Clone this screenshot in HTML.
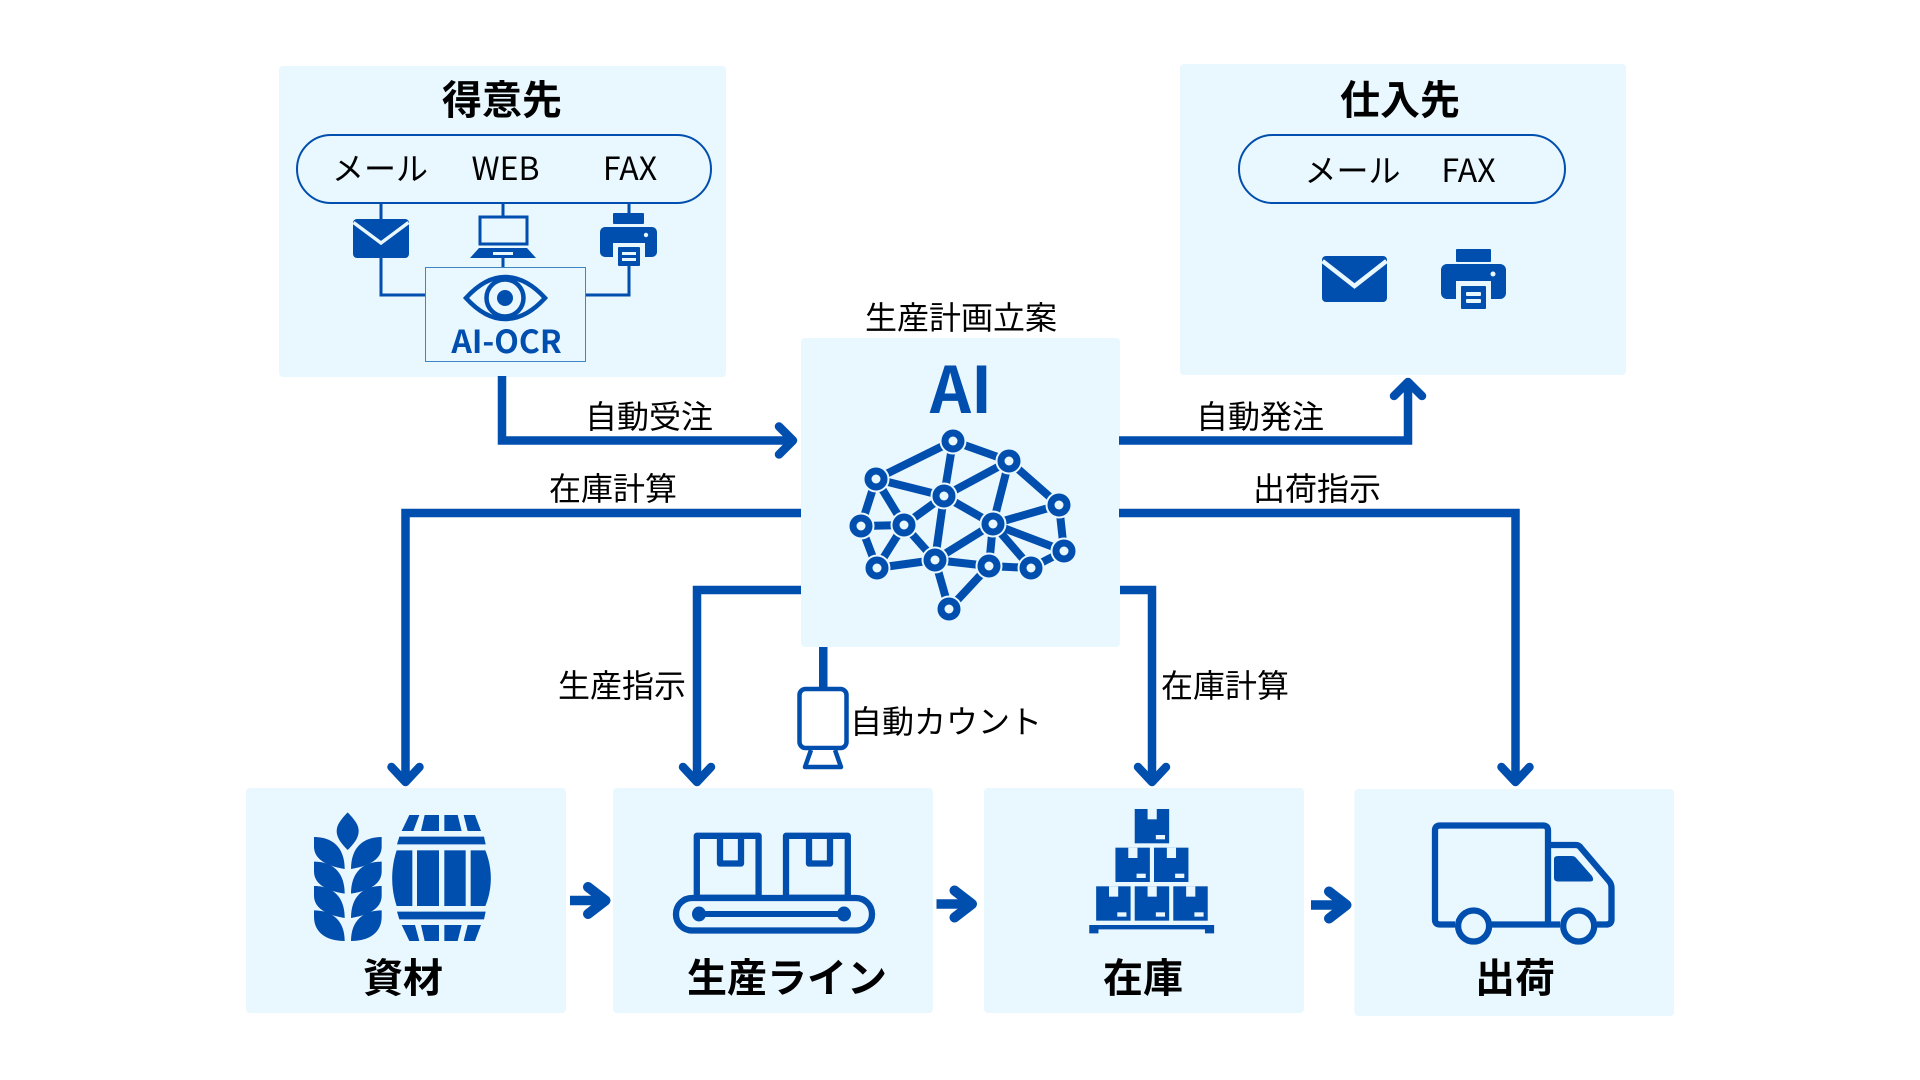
<!DOCTYPE html>
<html lang="ja">
<head>
<meta charset="utf-8">
<title>AI生産計画</title>
<style>
html,body{margin:0;padding:0;background:#fff;width:1920px;height:1080px;overflow:hidden}
svg{display:block}
text{font-family:"Noto Sans CJK JP","Liberation Sans",sans-serif;fill:#000;text-anchor:middle}
.b{font-weight:700;font-size:40px}
.r{font-size:32px}
.conn{fill:none;stroke:#004EAD;stroke-width:8.5;stroke-linejoin:miter}
.head{fill:none;stroke:#004EAD;stroke-width:8.5;stroke-linecap:round;stroke-linejoin:round}
.thin{fill:none;stroke:#004EAD;stroke-width:3}
.ln{stroke:#004EAD;stroke-width:8}
.ring{fill:#004EAD;stroke:#E9F7FF;stroke-width:2}
.hole{fill:#E9F7FF}
</style>
</head>
<body>
<svg width="1920" height="1080" viewBox="0 0 1920 1080" xmlns="http://www.w3.org/2000/svg">
<defs>
<g id="box"><rect width="75" height="103" fill="#004EAD"/><rect x="28" width="20" height="31" fill="#E9F7FF"/><rect x="46" y="78" width="20" height="13" fill="#E9F7FF"/></g>
<g id="leaf"><path d="M42 96C95 96 134 125 134 192C90 185 42 168 42 125Z"/></g>
<g id="leaflast"><path d="M42 316C95 316 134 345 134 408C75 408 42 380 42 335Z"/></g>
</defs>

<!-- panels -->
<g fill="#E9F7FF">
<rect x="279" y="66" width="447" height="311" rx="4"/>
<rect x="1180" y="64" width="446" height="311" rx="4"/>
<rect x="801" y="338" width="319" height="309" rx="4"/>
<rect x="246" y="788" width="320" height="225" rx="4"/>
<rect x="613" y="788" width="320" height="225" rx="4"/>
<rect x="984" y="788" width="320" height="225" rx="4"/>
<rect x="1354.500" y="789" width="319.500" height="227" rx="4"/>
</g>

<!-- 得意先 -->
<text class="b" x="502" y="114">得意先</text>
<rect x="297" y="135" width="414" height="68" rx="34" fill="none" stroke="#004EAD" stroke-width="2"/>
<text class="r" x="380" y="180">メール</text>
<text class="r" x="505.500" y="180">WEB</text>
<text class="r" x="630" y="180">FAX</text>
<path class="thin" d="M381 203V219M503 203V216M629 203V213M381 258V295H425M503 258V267M586 295H629V266"/>
<rect x="353" y="219" width="56" height="39" rx="4" fill="#004EAD"/>
<path d="M353.500 222.500L381 243L408.500 222.500" fill="none" stroke="#E9F7FF" stroke-width="3.500"/>
<rect x="480" y="217" width="47" height="27" fill="none" stroke="#004EAD" stroke-width="3"/>
<path d="M470 258H536L527 248H479Z" fill="#004EAD"/>
<rect x="493" y="252" width="20" height="3" fill="#E9F7FF"/>
<rect x="613" y="213" width="31" height="11" rx="1" fill="#004EAD"/>
<rect x="600" y="227" width="57" height="30" rx="5" fill="#004EAD"/>
<rect x="613" y="243" width="32" height="16" fill="#E9F7FF"/>
<rect x="618" y="247" width="22" height="19" rx="1" fill="#004EAD"/>
<rect x="622" y="252" width="14" height="3" fill="#E9F7FF"/><rect x="622" y="258" width="14" height="3" fill="#E9F7FF"/>
<circle cx="646" cy="235" r="2.200" fill="#E9F7FF"/>
<rect x="425.500" y="267.500" width="160" height="94" fill="#E9F7FF" stroke="#3F85C4" stroke-width="1"/>
<path d="M466 298Q485 277 505 277Q526 277 545 298Q526 319 505 319Q485 319 466 298Z" fill="none" stroke="#004EAD" stroke-width="4.500"/>
<circle cx="505" cy="298" r="18.500" fill="none" stroke="#004EAD" stroke-width="4.500"/>
<circle cx="505" cy="298" r="8" fill="#004EAD"/>
<text x="506.500" y="353" font-size="32" font-weight="700" style="fill:#004EAD">AI-OCR</text>

<!-- 仕入先 -->
<text class="b" x="1400" y="114">仕入先</text>
<rect x="1239" y="135" width="326" height="68" rx="34" fill="none" stroke="#004EAD" stroke-width="2"/>
<text class="r" x="1352.500" y="182">メール</text>
<text class="r" x="1468.500" y="182">FAX</text>
<rect x="1322" y="256" width="65" height="46" rx="4" fill="#004EAD"/>
<path d="M1322.500 261L1354.500 286L1386.500 261" fill="none" stroke="#E9F7FF" stroke-width="4.500"/>
<rect x="1456" y="249" width="35" height="13" rx="1" fill="#004EAD"/>
<rect x="1441" y="264" width="65" height="35" rx="6" fill="#004EAD"/>
<rect x="1456" y="281" width="35" height="19" fill="#E9F7FF"/>
<rect x="1461" y="286" width="25" height="23" rx="1" fill="#004EAD"/>
<rect x="1466" y="292" width="15" height="4" rx="1" fill="#E9F7FF"/><rect x="1466" y="299" width="15" height="4" rx="1" fill="#E9F7FF"/>
<circle cx="1493" cy="274" r="2.500" fill="#E9F7FF"/>

<!-- AI -->
<text class="r" x="961" y="329">生産計画立案</text>
<text x="961" y="413" font-size="64" font-weight="700" style="fill:#004EAD">AI</text>
<g>
<g class="ln">
<line x1="953" y1="441" x2="876" y2="479"/><line x1="953" y1="441" x2="944" y2="496"/><line x1="953" y1="441" x2="1009" y2="461"/>
<line x1="1009" y1="461" x2="944" y2="496"/><line x1="1009" y1="461" x2="993" y2="524"/><line x1="1009" y1="461" x2="1059" y2="505"/>
<line x1="876" y1="479" x2="944" y2="496"/><line x1="876" y1="479" x2="861" y2="526"/><line x1="876" y1="479" x2="904" y2="525"/>
<line x1="944" y1="496" x2="904" y2="525"/><line x1="944" y1="496" x2="993" y2="524"/><line x1="944" y1="496" x2="935" y2="560"/>
<line x1="1059" y1="505" x2="993" y2="524"/><line x1="1059" y1="505" x2="1064" y2="551"/>
<line x1="861" y1="526" x2="904" y2="525"/><line x1="861" y1="526" x2="877" y2="568"/>
<line x1="904" y1="525" x2="877" y2="568"/><line x1="904" y1="525" x2="935" y2="560"/>
<line x1="993" y1="524" x2="935" y2="560"/><line x1="993" y1="524" x2="989" y2="566"/><line x1="993" y1="524" x2="1031" y2="568"/><line x1="993" y1="524" x2="1064" y2="551"/>
<line x1="1064" y1="551" x2="1031" y2="568"/><line x1="877" y1="568" x2="935" y2="560"/><line x1="935" y1="560" x2="989" y2="566"/><line x1="989" y1="566" x2="1031" y2="568"/>
<line x1="935" y1="560" x2="949" y2="609"/><line x1="989" y1="566" x2="949" y2="609"/>
</g>
<g class="ring">
<circle cx="953" cy="441" r="12.500"/><circle cx="1009" cy="461" r="12.500"/><circle cx="876" cy="479" r="12.500"/><circle cx="944" cy="496" r="12.500"/>
<circle cx="1059" cy="505" r="12.500"/><circle cx="861" cy="526" r="12.500"/><circle cx="904" cy="525" r="12.500"/><circle cx="993" cy="524" r="12.500"/>
<circle cx="1064" cy="551" r="12.500"/><circle cx="877" cy="568" r="12.500"/><circle cx="935" cy="560" r="12.500"/><circle cx="989" cy="566" r="12.500"/>
<circle cx="1031" cy="568" r="12.500"/><circle cx="949" cy="609" r="12.500"/>
</g>
<g class="hole">
<circle cx="953" cy="441" r="4.500"/><circle cx="1009" cy="461" r="4.500"/><circle cx="876" cy="479" r="4.500"/><circle cx="944" cy="496" r="4.500"/>
<circle cx="1059" cy="505" r="4.500"/><circle cx="861" cy="526" r="4.500"/><circle cx="904" cy="525" r="4.500"/><circle cx="993" cy="524" r="4.500"/>
<circle cx="1064" cy="551" r="4.500"/><circle cx="877" cy="568" r="4.500"/><circle cx="935" cy="560" r="4.500"/><circle cx="989" cy="566" r="4.500"/>
<circle cx="1031" cy="568" r="4.500"/><circle cx="949" cy="609" r="4.500"/>
</g>
</g>

<!-- connectors -->
<path class="conn" d="M502 376V440.500H792"/>
<polyline class="head" points="779,426.500 793,440.500 779,454.500"/>
<path class="conn" d="M1119 440.500H1408V386"/>
<polyline class="head" points="1394,396 1408,382 1422,396"/>
<path class="conn" d="M801 513H405.500V780"/>
<polyline class="head" points="391.500,767 405.500,782 419.500,767"/>
<path class="conn" d="M1119 513H1515.500V780"/>
<polyline class="head" points="1501.500,767 1515.500,782 1529.500,767"/>
<path class="conn" d="M801 590H697V780"/>
<polyline class="head" points="683,767 697,782 711,767"/>
<path class="conn" d="M1120 590H1152V780"/>
<polyline class="head" points="1138,767 1152,782 1166,767"/>

<text class="r" x="649" y="428">自動受注</text>
<text class="r" x="1260" y="428">自動発注</text>
<text class="r" x="613" y="500">在庫計算</text>
<text class="r" x="1317" y="500">出荷指示</text>
<text class="r" x="622" y="697">生産指示</text>
<text class="r" x="1225" y="697">在庫計算</text>

<!-- scanner -->
<rect x="819" y="647" width="8.500" height="42" fill="#004EAD"/>
<rect x="799.500" y="689" width="47" height="59" rx="6" fill="#fff" stroke="#004EAD" stroke-width="4.500"/>
<path d="M811 750L805 767H841L835 750" fill="#fff" stroke="#004EAD" stroke-width="4.500" stroke-linejoin="round"/>
<text class="r" x="946" y="733">自動カウント</text>

<!-- small arrows -->
<g fill="none" stroke="#004EAD" stroke-width="10" stroke-linecap="round" stroke-linejoin="round">
<path d="M570 900.500H600" stroke-linecap="butt" stroke-width="9.500"/><polyline points="588,887 605.500,900.500 588,914"/>
<path d="M936.500 904H967" stroke-linecap="butt" stroke-width="9.500"/><polyline points="954.500,890.500 972,904 954.500,917.500"/>
<path d="M1311 905H1341" stroke-linecap="butt" stroke-width="9.500"/><polyline points="1329,891.500 1346.500,905 1329,918.500"/>
</g>

<!-- 資材 icon -->
<g transform="translate(300,805) scale(.33333)" fill="#004EAD">
<path d="M143 22C165 45 176 60 176 78C176 100 160 118 143 135C126 118 110 100 110 78C110 60 121 45 143 22Z"/>
<use href="#leaf"/><use href="#leaf" y="74"/><use href="#leaf" y="147"/><use href="#leaflast"/>
<g transform="translate(287,0) scale(-1,1)">
<use href="#leaf"/><use href="#leaf" y="74"/><use href="#leaf" y="147"/><use href="#leaflast"/>
</g>
<polygon points="328,30 358,30 340,78 305,78"/><polygon points="374,30 417,30 417,78 363,78"/><polygon points="433,30 473,30 485,78 433,78"/><polygon points="491,30 525,30 543,78 503,78"/>
<polygon points="298,95 552,95 557,118 291,118"/><polygon points="291,320 557,320 552,343 298,343"/>
<path d="M290 136H337V303H290C272 250 272 190 290 136Z"/><rect x="351" y="136" width="66" height="167"/><rect x="433" y="136" width="64" height="167"/><path d="M512 136H556C578 190 578 250 556 303H512Z"/>
<polygon points="305,360 345,360 358,408 328,408"/><polygon points="363,360 417,360 417,408 374,408"/><polygon points="433,360 485,360 473,408 433,408"/><polygon points="503,360 543,360 525,408 491,408"/>
</g>
<text class="b" x="403" y="992">資材</text>

<!-- 生産ライン icon -->
<g fill="none" stroke="#004EAD" stroke-width="6.300" stroke-linejoin="round">
<rect x="696.800" y="835.800" width="61.800" height="62"/>
<rect x="786" y="835.800" width="61.800" height="62"/>
<path d="M720 836V863.500H741V836M809 836V863.500H830V836"/>
<rect x="676" y="898" width="196" height="32.500" rx="16"/>
</g>
<g fill="#004EAD">
<ellipse cx="699" cy="914" rx="7" ry="7.500"/><ellipse cx="844" cy="914" rx="7" ry="7.500"/><rect x="699" y="911" width="145" height="6"/>
</g>
<text class="b" x="787" y="992">生産ライン</text>

<!-- 在庫 icon -->
<g transform="translate(980,780) scale(.4591,.3333)" fill="#004EAD">
<use href="#box" x="337" y="87"/>
<use href="#box" x="295" y="203"/><use href="#box" x="379" y="203"/>
<use href="#box" x="253" y="319"/><use href="#box" x="337" y="319"/><use href="#box" x="421" y="319"/>
<path d="M238 435H510V460H490V448H258V460H238Z"/>
</g>
<text class="b" x="1143" y="992">在庫</text>

<!-- 出荷 icon -->
<g fill="none" stroke="#004EAD" stroke-width="6.300" stroke-linejoin="round">
<path d="M1455 924.500H1440Q1435 924.500 1435 919.500V830.500Q1435 825.500 1440 825.500H1543Q1548 825.500 1548 830.500V924.500H1490"/>
<path d="M1548 845H1576Q1579 845 1581 848L1609 881Q1611.500 884 1611.500 888V919.500Q1611.500 924.500 1606 924.500H1597M1560 924.500H1548"/>
<circle cx="1473.600" cy="926" r="15.500" fill="#E9F7FF"/>
<circle cx="1578.700" cy="926" r="15.500" fill="#E9F7FF"/>
</g>
<path d="M1554 859Q1554 856 1558 856H1572Q1575 856 1577 859L1592 876Q1595 881.500 1590 881.500H1558Q1554 881.500 1554 878Z" fill="#004EAD"/>
<text class="b" x="1515" y="992">出荷</text>
</svg>
</body>
</html>
